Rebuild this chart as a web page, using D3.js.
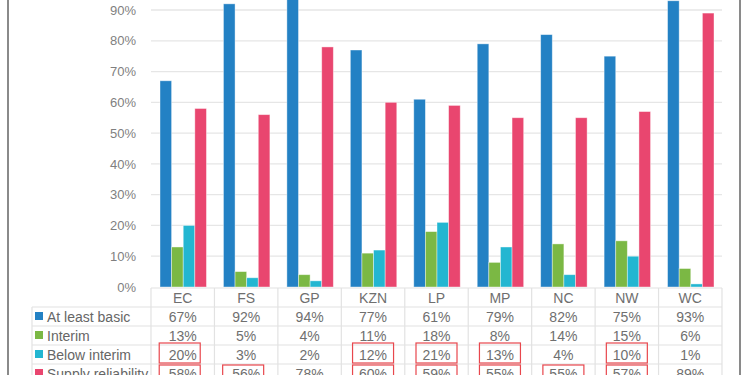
<!DOCTYPE html>
<html>
<head>
<meta charset="utf-8">
<script src="https://cdn.jsdelivr.net/npm/d3@7"></script>
<style>
  body { margin: 0; background: #fff; }
  svg { display: block; font-family: 'Liberation Sans', Arial, sans-serif; }
</style>
</head>
<body>
<svg width="750" height="375"></svg>
<script>
// provinces along the x axis
const categories = ['EC', 'FS', 'GP', 'KZN', 'LP', 'MP', 'NC', 'NW', 'WC']
const seriesNames = ['At least basic', 'Interim', 'Below interim', 'Supply reliability']
const atLeastBasic = [67, 92, 94, 77, 61, 79, 82, 75, 93]
const interim = [13, 5, 4, 11, 18, 8, 14, 15, 6]
const belowInterim = [20, 3, 2, 12, 21, 13, 4, 10, 1]
const supplyReliability = [58, 56, 78, 60, 59, 55, 55, 57, 89]
const yTicks = [0, 10, 20, 30, 40, 50, 60, 70, 80, 90]
// cells with a red box around them: [series index, category]
const flagged = [[2, 'EC'], [3, 'EC'], [3, 'FS'], [2, 'KZN'], [3, 'KZN'], [2, 'LP'], [3, 'LP'],
  [2, 'MP'], [3, 'MP'], [3, 'NC'], [2, 'NW'], [3, 'NW']]

const colors = ['#2381c4', '#7bb844', '#23b6d1', '#e9466f']
const allSeries = [atLeastBasic, interim, belowInterim, supplyReliability]

const svg = d3.select('svg')
const left = 151, right = 722, y0 = 287
const rowH = 19, tableTop = 288, legendLeft = 32

const x = d3.scaleBand().domain(categories).range([left, right])
const xs = d3.scaleBand().domain(d3.range(4)).range([9, x.bandwidth() - 8])
const y = d3.scaleLinear().domain([0, 90]).range([y0, 10])

// frame lines of the cropped picture
svg.append('line').attr('x1', 8).attr('x2', 8).attr('y1', 0).attr('y2', 375)
  .attr('stroke', '#8a8a8a').attr('stroke-width', 2)
svg.append('line').attr('x1', 740).attr('x2', 740).attr('y1', 0).attr('y2', 375)
  .attr('stroke', '#8a8a8a').attr('stroke-width', 2)

// gridlines
svg.append('g').selectAll('line').data(yTicks.slice(1)).enter().append('line')
  .attr('x1', left).attr('x2', right)
  .attr('y1', d => y(d)).attr('y2', d => y(d))
  .attr('stroke', '#e6e6e6').attr('stroke-width', 1.3)

// y axis labels
const yAxis = svg.append('g').attr('transform', 'translate(' + (left - 12) + ',0)')
  .call(d3.axisLeft(y).tickValues(yTicks).tickSize(0).tickFormat(d => d + '%'))
yAxis.select('.domain').remove()
yAxis.selectAll('text').attr('font-size', 13).attr('fill', '#7f7f7f')
  .attr('font-family', "'Liberation Sans', Arial, sans-serif")

// bars
const groups = svg.append('g').selectAll('g').data(categories).enter().append('g')
  .attr('transform', d => 'translate(' + x(d) + ',0)')
groups.selectAll('rect')
  .data((d, i) => allSeries.map((s, k) => ({ k: k, v: s[i] })))
  .enter().append('rect')
  .attr('x', d => xs(d.k))
  .attr('width', xs.bandwidth())
  .attr('y', d => y(d.v))
  .attr('height', d => y0 - y(d.v))
  .attr('fill', d => colors[d.k])
  .attr('stroke', 'rgba(255,255,255,0.5)').attr('stroke-width', 0.8)

// data table
const grid = svg.append('g').attr('stroke', '#e2e2e2').attr('stroke-width', 1.2)
grid.append('line').attr('x1', left).attr('x2', right).attr('y1', tableTop).attr('y2', tableTop)
d3.range(1, 5).forEach(r => {
  grid.append('line').attr('x1', legendLeft).attr('x2', right)
    .attr('y1', tableTop + r * rowH).attr('y2', tableTop + r * rowH)
})
grid.append('line').attr('x1', legendLeft).attr('x2', legendLeft).attr('y1', tableTop + rowH).attr('y2', 375)
categories.concat(['end']).forEach((c, i) => {
  const xx = left + i * x.bandwidth()
  grid.append('line').attr('x1', xx).attr('x2', xx).attr('y1', tableTop).attr('y2', 375)
})

const textCol = '#6f6f6f'
svg.append('g').selectAll('text').data(categories).enter().append('text')
  .attr('x', d => x(d) + x.bandwidth() / 2).attr('y', tableTop + rowH / 2 + 5)
  .attr('text-anchor', 'middle').attr('font-size', 14).attr('fill', textCol)
  .text(d => d)

allSeries.forEach((s, k) => {
  const cy = tableTop + (k + 1) * rowH + rowH / 2
  svg.append('rect').attr('x', 35).attr('y', cy - 4.5).attr('width', 8).attr('height', 8)
    .attr('fill', colors[k])
  svg.append('text').attr('x', 47).attr('y', cy + 5).attr('font-size', 14).attr('fill', '#666')
    .text(seriesNames[k])
  svg.append('g').selectAll('text').data(s).enter().append('text')
    .attr('x', (d, i) => x(categories[i]) + x.bandwidth() / 2).attr('y', cy + 5)
    .attr('text-anchor', 'middle').attr('font-size', 14).attr('fill', textCol)
    .text(d => d + '%')
})

// red highlight boxes, drawn round the cell's text
const boxW = 41
svg.append('g').selectAll('rect').data(flagged).enter().append('rect')
  .attr('x', d => x(d[1]) + x.bandwidth() / 2 - boxW / 2 - (d[1] === 'EC' || d[1] === 'FS' ? 3 : 0))
  .attr('width', boxW)
  .attr('y', d => tableTop + (d[0] + 1) * rowH - (d[0] === 2 ? 2 : -1))
  .attr('height', rowH + 1)
  .attr('fill', 'none').attr('stroke', '#e8474d').attr('stroke-width', 1.2)
</script>
</body>
</html>
